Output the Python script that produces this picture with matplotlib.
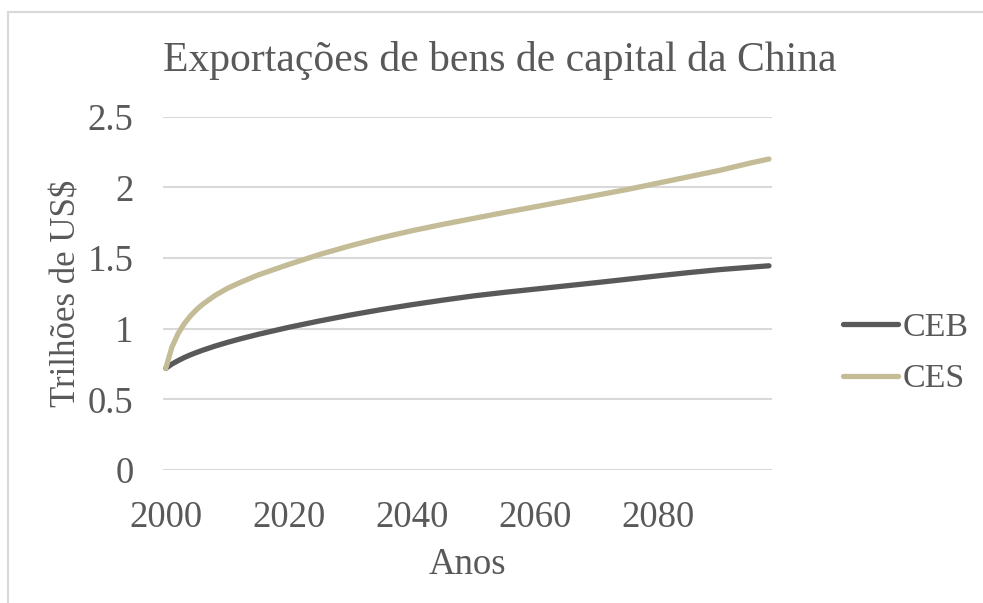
import matplotlib
matplotlib.use("Agg")
import matplotlib.pyplot as plt
from matplotlib.patches import Rectangle

# ---- data ----
years = [2000, 2001, 2002, 2003, 2004, 2005, 2006, 2008, 2010, 2012, 2015, 2018,
         2020, 2025, 2030, 2035, 2040, 2045, 2050, 2055, 2060, 2065, 2070, 2075,
         2080, 2085, 2090, 2095, 2098]
ceb = [0.72, 0.75, 0.774, 0.796, 0.815, 0.832, 0.848, 0.877, 0.903, 0.927, 0.96, 0.99,
       1.01, 1.055, 1.097, 1.135, 1.17, 1.202, 1.232, 1.257, 1.28, 1.303, 1.326, 1.35,
       1.374, 1.397, 1.418, 1.435, 1.445]
ces = [0.72, 0.87, 0.965, 1.035, 1.09, 1.135, 1.173, 1.235, 1.285, 1.325, 1.38, 1.425,
       1.455, 1.525, 1.587, 1.643, 1.693, 1.738, 1.78, 1.822, 1.862, 1.903, 1.944, 1.985,
       2.03, 2.075, 2.12, 2.172, 2.20]
series_names = ["CEB", "CES"]
x_ticks = [2000, 2020, 2040, 2060, 2080]
y_ticks = [0, 0.5, 1, 1.5, 2, 2.5]
y_tick_labels = ["0", "0.5", "1", "1.5", "2", "2.5"]
title = "Exportações de bens de capital da China"
x_label = "Anos"
y_label = "Trilhões de US$"

text_color = "#595959"
grid_color = "#D9D9D9"
plt.rcParams["font.family"] = ["Liberation Serif", "DejaVu Serif"]

fig = plt.figure(figsize=(9.83, 6.03), dpi=100)
fig.patch.set_facecolor("white")

# chart border
fig.patches.append(Rectangle((8 / 983, -0.05), 1.2, 1 - 12 / 603 + 0.05,
                             transform=fig.transFigure, fill=False,
                             edgecolor=grid_color, linewidth=1.5))

ax = fig.add_axes([0.1655, 0.2204, 0.7854 - 0.1655, 0.8066 - 0.2204])
ax.plot(years, ceb, color="#595959", linewidth=3.8, solid_capstyle="round",
        solid_joinstyle="round", label=series_names[0], zorder=3)
ax.plot(years, ces, color="#C4BC96", linewidth=3.8, solid_capstyle="round",
        solid_joinstyle="round", label=series_names[1], zorder=3)

ax.set_xlim(1999.5, 2098.5)
ax.set_ylim(0, 2.5)
ax.set_yticks(y_ticks)
ax.set_yticklabels(y_tick_labels)
ax.set_xticks(x_ticks)
ax.set_xticklabels([str(t) for t in x_ticks])
for s in ax.spines.values():
    s.set_visible(False)
ax.grid(axis="y", color=grid_color, linewidth=1.5)
ax.set_axisbelow(True)
ax.tick_params(axis="both", length=0, labelsize=26.5, colors=text_color)
ax.tick_params(axis="y", pad=21)
ax.tick_params(axis="x", pad=22)

ax.set_xlabel(x_label, fontsize=26.5, color=text_color, labelpad=9)
ax.set_ylabel(y_label, fontsize=25, color=text_color, labelpad=3)
fig.text(500 / 983, 1 - 60 / 603, title, fontsize=30,
         color=text_color, ha="center", va="center")

leg = ax.legend(loc="center left", bbox_to_anchor=(1.117, 0.33), frameon=False,
                fontsize=24.5, labelcolor=text_color, handlelength=1.6,
                handletextpad=0.15, labelspacing=0.6, borderpad=0,
                borderaxespad=0)

fig.savefig("out.png", dpi=100, facecolor="white")
